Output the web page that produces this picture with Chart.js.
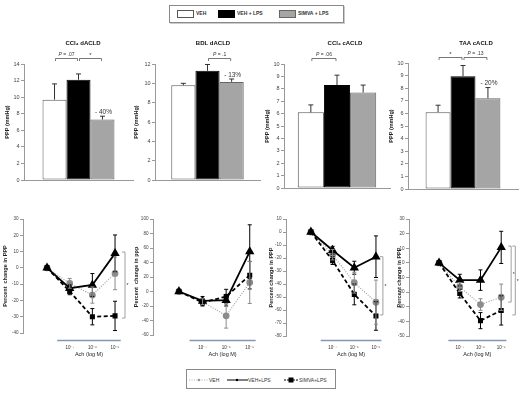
<!DOCTYPE html>
<html>
<head>
<meta charset="utf-8">
<script src="https://cdn.jsdelivr.net/npm/chart.js@4.4.1/dist/chart.umd.min.js"></script>
<style>
  body { margin: 0; background: #fff; width: 527px; height: 397px; position: relative; overflow: hidden;
         font-family: "Liberation Sans", Arial, sans-serif; }
  canvas { position: absolute; }
  .box { position: absolute; border: 1px solid #8a8a8a; box-shadow: 1px 1px 0 #ccc; background: #fff; }
  .sw { position: absolute; width: 15px; height: 6px; border: 1px solid #555; }
  .tx { position: absolute; font-size: 5px; line-height: 6px; color: #333; white-space: nowrap; }
  svg { position: absolute; }
</style>
</head>
<body>

<div class="box" style="left:169px;top:5px;width:173px;height:16px"></div>
<div class="sw" style="left:177px;top:10px;background:#fff"></div>
<div class="tx" style="left:196px;top:10px;font-weight:bold">VEH</div>
<div class="sw" style="left:218px;top:10px;background:#000;border-color:#000"></div>
<div class="tx" style="left:237px;top:10px;font-weight:bold">VEH + LPS</div>
<div class="sw" style="left:279px;top:10px;background:#a5a5a5;border-color:#666"></div>
<div class="tx" style="left:298px;top:10px;font-weight:bold">SIMVA + LPS</div>

<div class="box" style="left:186px;top:369px;width:148px;height:18px;box-shadow:none"></div>
<svg style="left:189px;top:376px" width="20" height="8">
  <line x1="0" y1="4" x2="19" y2="4" stroke="#aaa" stroke-width="1" stroke-dasharray="1,1.5"/>
  <circle cx="10" cy="4" r="1.3" fill="#999"/>
</svg>
<div class="tx" style="left:209px;top:377px">VEH</div>
<svg style="left:227px;top:376px" width="22" height="8">
  <line x1="0" y1="4" x2="21" y2="4" stroke="#000" stroke-width="1"/>
  <circle cx="10" cy="4" r="1.2" fill="#000"/>
</svg>
<div class="tx" style="left:248px;top:377px">VEH+LPS</div>
<svg style="left:284px;top:376px" width="15" height="8">
  <line x1="0" y1="4" x2="14" y2="4" stroke="#000" stroke-width="1" stroke-dasharray="2,1"/>
  <rect x="4.5" y="1.5" width="5" height="5" fill="#000"/>
</svg>
<div class="tx" style="left:299px;top:377px">SIMVA+LPS</div>

<script>
// ---- data: portal perfusion pressure (mmHg), bars ----
const groups = ['VEH', 'VEH + LPS', 'SIMVA + LPS'];
const barTitles = ['CCl₄ dACLD', 'BDL dACLD', 'CCl₄ cACLD', 'TAA cACLD'];
const ppp = [[9.7, 12.1, 7.3], [9.8, 11.3, 10.15], [6.1, 8.3, 7.7], [6.1, 8.95, 7.2]];
const pppErr = [[1.9, 0.7, 0.4], [0.2, 0.65, 0.3], [0.6, 0.8, 0.6], [0.55, 0.85, 0.85]];
const pppMax = [14, 12, 10, 10];
const pppStep = [2, 2, 1, 1];
const pValues = [
  [[0, 1, 'P = .07'], [1, 2, '*']],
  [[1, 2, 'P = .1']],
  [[0, 1, 'P = .06']],
  [[0, 1, '*'], [1, 2, 'P = .13']]
];
const reduction = ['- 40%', '- 13%', '', '- 20%'];

// ---- data: percent change in PPP vs Ach dose ----
const doseLabels = ['', '10⁻⁷', '10⁻⁶', '10⁻⁵'];
const doseIdx = [0, 1, 2, 3];
const vehPct = [[0, -9.5, -16.7, -3.4], [0, -14, -33.5, 12.5], [0, -17.5, -39, -54], [0, -16.5, -28.5, -23.5]];
const vehErr = [[0, 3, 5, 10], [0, 4, 17, 29], [0, 4, 8, 17], [0, 3, 4, 9]];
const lpsPct = [[0, -12.5, -10.5, 8.9], [0, -13, -12, 55], [0, -14, -27.5, -19], [0, -11.8, -11.8, 10.6]];
const lpsErr = [[1, 2, 7, 11.3], [0, 6, 8, 37], [0, 3, 5, 16], [0, 4, 7, 11]];
const simPct = [[0, -14.5, -30, -29.5], [0, -15, -7, 22.5], [0, -22, -48, -64.6], [0, -21, -39.5, -32.5]];
const simErr = [[0, 2, 5, 9], [0, 5, 10, 19], [0, 3, 8, 11], [0, 3, 5.5, 10]];
const pctMin = [-40, -60, -80, -50];
const pctMax = [30, 100, 10, 30];
const pctStep = [10, 20, 10, 10];
const pctTitles = ['Percent  change in PPP', 'Percent  change in ppp', 'Percent change in PPP', 'Percent change in PPP'];
// significance brackets: [x position, top value, bottom value]
const sigBrackets = [[[3.44, 9.7, -30.8]], [], [[3.32, -19, -63.8]], [[3.48, 11.5, -26.8], [3.68, 11.5, -35.6]]];

const FONT = '"Liberation Sans", Arial, sans-serif';
Chart.defaults.font.family = FONT;
Chart.defaults.color = '#444';

// [left, top, right, bottom] of canvas and of plot area, page pixels
const barBoxes = [
  { box: [0, 28, 136, 195], area: [24, 64, 133, 180], tpad: 4.4, cat: 0.66, titleX: 83 },
  { box: [128, 28, 264, 195], area: [155, 64, 260, 180], tpad: 5.4, cat: 0.69, titleX: 213 },
  { box: [258, 28, 393, 195], area: [284, 64, 390, 188], tpad: 6.4, cat: 0.74, titleX: 345 },
  { box: [384, 28, 527, 195], area: [408, 63, 518, 189], tpad: 4.4, cat: 0.68, titleX: 476 }
];
const lineBoxes = [
  { box: [0, 200, 136, 362], area: [23, 219, 130, 333], tpad: 2.4, xmin: -1.06, xmax: 3.66 },
  { box: [130, 200, 265, 362], area: [153, 219, 262, 335], tpad: 3.4, xmin: -1.1, xmax: 3.5 },
  { box: [262, 200, 395, 362], area: [286, 219, 392, 336], tpad: 6.4, xmin: -1.15, xmax: 3.74 },
  { box: [394, 200, 527, 362], area: [409, 219, 524, 336], tpad: 1.9, xmin: -1.45, xmax: 4.1 }
];

function makeCanvas(box) {
  const c = document.createElement('canvas');
  c.width = box[2] - box[0];
  c.height = box[3] - box[1];
  c.style.left = box[0] + 'px';
  c.style.top = box[1] + 'px';
  document.body.appendChild(c);
  return c;
}

function yAxis(p, min, max, step, title, size) {
  return {
    min: min, max: max,
    afterFit: s => { s.width = p.area[0] - p.box[0]; },
    ticks: { stepSize: step, font: { size: size }, color: '#444', padding: 1.5 },
    grid: { drawOnChartArea: false, drawTicks: true, tickLength: 3, color: '#999' },
    border: { display: true, color: '#999' },
    title: { display: true, text: title, font: { size: 5.5, weight: 'bold' }, color: '#222',
             padding: { top: p.tpad, bottom: 0 } }
  };
}

function layoutPad(p) {
  return { left: 0, top: p.area[1] - p.box[1], right: p.box[2] - p.area[2], bottom: 0 };
}

// error whiskers; bars get the upper half only
const errorBars = {
  id: 'errorBars',
  afterDatasetsDraw(chart) {
    const ctx = chart.ctx, y = chart.scales.y;
    const isBar = chart.config.type === 'bar';
    chart.data.datasets.forEach((ds, i) => {
      const meta = chart.getDatasetMeta(i);
      ctx.save();
      ctx.strokeStyle = ds.errColor || '#000';
      ctx.lineWidth = 1;
      meta.data.forEach((el, j) => {
        const e = ds.err[j];
        if (!e) return;
        const v = isBar ? ds.data[j] : ds.data[j].y;
        const top = y.getPixelForValue(v + e);
        const bot = isBar ? y.getPixelForValue(v) : y.getPixelForValue(v - e);
        const cap = isBar ? 2.5 : 2;
        ctx.beginPath();
        ctx.moveTo(el.x, top); ctx.lineTo(el.x, bot);
        ctx.moveTo(el.x - cap, top); ctx.lineTo(el.x + cap, top);
        if (!isBar) { ctx.moveTo(el.x - cap, bot); ctx.lineTo(el.x + cap, bot); }
        ctx.stroke();
      });
      ctx.restore();
    });
  }
};

function drawPLabel(ctx, text, cx, cy) {
  ctx.textBaseline = 'middle';
  if (text === '*') {
    ctx.font = '6px ' + FONT;
    ctx.textAlign = 'center';
    ctx.fillText('*', cx, cy + 1);
    return;
  }
  ctx.font = 'italic 5px ' + FONT;
  const a = ctx.measureText('P').width;
  ctx.font = '5px ' + FONT;
  const rest = text.slice(1);
  const b = ctx.measureText(rest).width;
  const x0 = cx - (a + b) / 2;
  ctx.textAlign = 'left';
  ctx.font = 'italic 5px ' + FONT;
  ctx.fillText('P', x0, cy);
  ctx.font = '5px ' + FONT;
  ctx.fillText(rest, x0 + a, cy);
}

const barNotes = {
  id: 'barNotes',
  afterDraw(chart) {
    const o = chart.options.plugins.barNotes;
    const ctx = chart.ctx, y = chart.scales.y, top = chart.chartArea.top;
    const cx = k => chart.getDatasetMeta(k).data[0].x;
    ctx.save();
    ctx.fillStyle = '#111';
    ctx.font = 'bold 6px ' + FONT;
    ctx.textAlign = 'center';
    ctx.textBaseline = 'middle';
    ctx.fillText(o.title, o.titleX - o.left, 43 - o.boxTop);
    ctx.strokeStyle = '#555';
    ctx.lineWidth = 0.8;
    ctx.fillStyle = '#333';
    o.pairs.forEach(([a, b, t]) => {
      const ly = top - 5.5;
      ctx.beginPath();
      ctx.moveTo(cx(a) + 1, ly + 2.5); ctx.lineTo(cx(a) + 1, ly);
      ctx.lineTo(cx(b) - 1, ly); ctx.lineTo(cx(b) - 1, ly + 2.5);
      ctx.stroke();
      drawPLabel(ctx, t, (cx(a) + cx(b)) / 2, ly - 4);
    });
    if (o.reduction) {
      const ds = chart.data.datasets[2];
      ctx.font = '6.5px ' + FONT;
      ctx.textAlign = 'center';
      ctx.fillText(o.reduction, cx(2) + 1, y.getPixelForValue(ds.data[0] + ds.err[0]) - 4);
    }
    ctx.restore();
  }
};

const lineNotes = {
  id: 'lineNotes',
  afterDraw(chart) {
    const o = chart.options.plugins.lineNotes;
    const ctx = chart.ctx, x = chart.scales.x, y = chart.scales.y;
    ctx.save();
    const x0 = x.getPixelForValue(0.45), x1 = x.getPixelForValue(3.25);
    const ly = 340.5 - o.boxTop;
    ctx.strokeStyle = '#8497b0';
    ctx.lineWidth = 1.5;
    ctx.beginPath(); ctx.moveTo(x0, ly); ctx.lineTo(x1, ly); ctx.stroke();
    ctx.fillStyle = '#222';
    ctx.font = '5.5px ' + FONT;
    ctx.textAlign = 'center';
    ctx.textBaseline = 'middle';
    ctx.fillText('Ach (log M)', (x0 + x1) / 2, 354.5 - o.boxTop);
    ctx.strokeStyle = '#888';
    ctx.lineWidth = 0.8;
    ctx.fillStyle = '#333';
    o.brackets.forEach(([bx, v1, v2]) => {
      const px = x.getPixelForValue(bx), p1 = y.getPixelForValue(v1), p2 = y.getPixelForValue(v2);
      ctx.beginPath();
      ctx.moveTo(px - 3, p1); ctx.lineTo(px, p1); ctx.lineTo(px, p2); ctx.lineTo(px - 3, p2);
      ctx.stroke();
      ctx.font = '5px ' + FONT;
      ctx.fillText('*', px + 2.5, (p1 + p2) / 2 + 1);
    });
    ctx.restore();
  }
};

const barColors = ['#ffffff', '#000000', '#a5a5a5'];
const barBorders = ['#555555', '#000000', '#666666'];

barBoxes.forEach((p, k) => {
  new Chart(makeCanvas(p.box), {
    type: 'bar',
    data: {
      labels: [''],
      datasets: groups.map((g, i) => ({
        label: g,
        data: [ppp[k][i]],
        err: [pppErr[k][i]],
        errColor: '#333',
        backgroundColor: barColors[i],
        borderColor: barBorders[i],
        borderWidth: 1,
        borderSkipped: false,
        categoryPercentage: p.cat,
        barPercentage: 1
      }))
    },
    options: {
      responsive: false, animation: false,
      layout: { padding: layoutPad(p), autoPadding: false },
      plugins: {
        legend: { display: false }, tooltip: { enabled: false },
        barNotes: { title: barTitles[k], titleX: p.titleX, left: p.box[0], boxTop: p.box[1],
                    pairs: pValues[k], reduction: reduction[k] }
      },
      scales: {
        x: {
          afterFit: s => { s.height = p.box[3] - p.area[3]; },
          ticks: { display: false },
          grid: { display: false },
          border: { display: true, color: '#999' }
        },
        y: yAxis(p, 0, pppMax[k], pppStep[k], 'PPP (mmHg)', 5.5)
      }
    },
    plugins: [errorBars, barNotes]
  });
});

const pts = arr => doseIdx.map((d, i) => ({ x: d, y: arr[i] }));

lineBoxes.forEach((p, k) => {
  new Chart(makeCanvas(p.box), {
    type: 'line',
    data: {
      datasets: [
        { label: 'VEH+LPS', data: pts(lpsPct[k]), err: lpsErr[k], errColor: '#000', order: 0,
          borderColor: '#000', borderWidth: 1.8, pointStyle: 'triangle', pointRadius: 3.6,
          pointBackgroundColor: '#000', pointBorderColor: '#000', tension: 0 },
        { label: 'SIMVA+LPS', data: pts(simPct[k]), err: simErr[k], errColor: '#000', order: 1,
          borderColor: '#000', borderWidth: 1.8, borderDash: [4, 2.5], pointStyle: 'rect', pointRadius: 2.3,
          pointBackgroundColor: '#000', pointBorderColor: '#000', tension: 0 },
        { label: 'VEH', data: pts(vehPct[k]), err: vehErr[k], errColor: '#8c8c8c', order: 2,
          borderColor: '#a0a0a0', borderWidth: 1.2, borderDash: [1, 1.5], pointStyle: 'circle', pointRadius: 2.8,
          pointBackgroundColor: '#8c8c8c', pointBorderColor: '#8c8c8c', tension: 0 }
      ]
    },
    options: {
      responsive: false, animation: false,
      layout: { padding: layoutPad(p), autoPadding: false },
      plugins: {
        legend: { display: false }, tooltip: { enabled: false },
        lineNotes: { boxTop: p.box[1], brackets: sigBrackets[k] }
      },
      scales: {
        x: {
          type: 'linear', min: p.xmin, max: p.xmax,
          afterFit: s => { s.height = p.box[3] - p.area[3]; },
          afterBuildTicks: s => { s.ticks = doseIdx.slice(1).map(v => ({ value: v })); },
          ticks: { callback: v => doseLabels[v], font: { size: 4.5 }, color: '#333',
                   padding: 345.5 - p.area[3], maxRotation: 0, autoSkip: false },
          grid: { display: false, drawTicks: false },
          border: { display: false }
        },
        y: yAxis(p, pctMin[k], pctMax[k], pctStep[k], pctTitles[k], 4.6)
      }
    },
    plugins: [errorBars, lineNotes]
  });
});
</script>
</body>
</html>
